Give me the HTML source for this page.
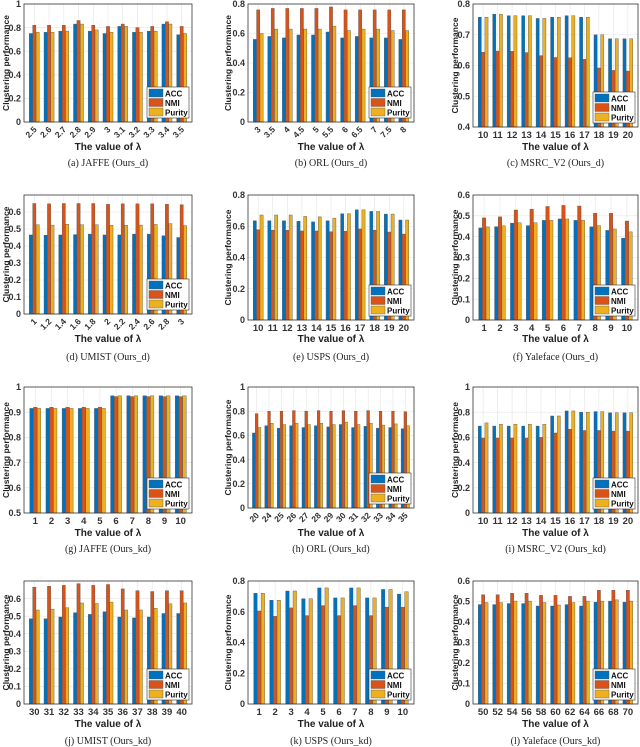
<!DOCTYPE html>
<html><head><meta charset="utf-8"><style>
html,body{margin:0;padding:0;background:#fff;width:640px;height:747px;overflow:hidden}
svg{display:block}
</style></head><body>
<svg id="fig" width="640" height="747" viewBox="0 0 640 747" xmlns="http://www.w3.org/2000/svg"></svg>
<script>
const seriesNames=["ACC","NMI","Purity"];
const colors=["#0072BD","#D95319","#EDB120"];
const catsA=["2.5","2.6","2.7","2.8","2.9","3","3.1","3.2","3.3","3.4","3.5"];
const accA=[0.75,0.76,0.77,0.83,0.77,0.75,0.81,0.76,0.77,0.83,0.74];
const nmiA=[0.82,0.82,0.82,0.86,0.82,0.81,0.83,0.80,0.81,0.85,0.81];
const purA=[0.76,0.76,0.77,0.83,0.78,0.76,0.81,0.76,0.77,0.83,0.75];
const catsB=["3","3.5","4","4.5","5","5.5","6","6.5","7","7.5","8"];
const accB=[0.56,0.58,0.57,0.59,0.59,0.61,0.57,0.58,0.57,0.57,0.56];
const nmiB=[0.76,0.77,0.77,0.77,0.77,0.78,0.76,0.76,0.76,0.76,0.76];
const purB=[0.60,0.63,0.63,0.63,0.63,0.65,0.62,0.63,0.63,0.62,0.62];
const catsC=["10","11","12","13","14","15","16","17","18","19","20"];
const accC=[0.757,0.767,0.762,0.762,0.753,0.757,0.762,0.757,0.70,0.687,0.687];
const nmiC=[0.643,0.647,0.646,0.642,0.632,0.626,0.625,0.62,0.592,0.584,0.582];
const purC=[0.757,0.767,0.762,0.762,0.753,0.757,0.762,0.757,0.70,0.687,0.687];
const catsD=["1","1.2","1.4","1.6","1.8","2","2.2","2.4","2.6","2.8","3"];
const accD=[0.465,0.463,0.465,0.467,0.47,0.465,0.465,0.47,0.47,0.46,0.45];
const nmiD=[0.65,0.648,0.65,0.65,0.65,0.645,0.648,0.648,0.648,0.645,0.643];
const purD=[0.525,0.523,0.528,0.525,0.525,0.522,0.522,0.523,0.527,0.532,0.52];
const catsE=["10","11","12","13","14","15","16","17","18","19","20"];
const accE=[0.635,0.635,0.635,0.632,0.628,0.635,0.68,0.705,0.695,0.678,0.64];
const nmiE=[0.578,0.575,0.575,0.57,0.57,0.565,0.568,0.583,0.575,0.563,0.55];
const purE=[0.672,0.672,0.672,0.663,0.66,0.652,0.68,0.705,0.695,0.678,0.64];
const catsF=["1","2","3","4","5","6","7","8","9","10"];
const accF=[0.442,0.448,0.465,0.453,0.478,0.485,0.478,0.447,0.43,0.393];
const nmiF=[0.49,0.495,0.528,0.532,0.545,0.55,0.547,0.512,0.512,0.475];
const purF=[0.447,0.452,0.467,0.467,0.478,0.485,0.478,0.453,0.437,0.423];
const catsG=["1","2","3","4","5","6","7","8","9","10"];
const accG=[0.915,0.915,0.915,0.915,0.915,0.965,0.965,0.965,0.965,0.965];
const nmiG=[0.92,0.92,0.92,0.92,0.92,0.962,0.962,0.962,0.962,0.962];
const purG=[0.915,0.915,0.915,0.915,0.915,0.965,0.965,0.965,0.965,0.965];
const catsH=["20","24","25","26","27","28","29","30","31","32","33","34","35"];
const accH=[0.62,0.68,0.66,0.68,0.665,0.68,0.67,0.69,0.665,0.675,0.66,0.665,0.655];
const nmiH=[0.78,0.80,0.80,0.805,0.80,0.805,0.80,0.805,0.80,0.805,0.80,0.80,0.795];
const purH=[0.665,0.70,0.69,0.70,0.69,0.70,0.69,0.71,0.69,0.70,0.685,0.695,0.68];
const catsI=["10","11","12","13","14","15","16","17","18","19","20"];
const accI=[0.69,0.69,0.69,0.69,0.69,0.77,0.81,0.80,0.805,0.795,0.795];
const nmiI=[0.595,0.595,0.595,0.595,0.60,0.635,0.665,0.655,0.655,0.65,0.65];
const purI=[0.715,0.705,0.705,0.705,0.705,0.77,0.81,0.80,0.805,0.795,0.795];
const catsJ=["30","31","32","33","34","35","36","37","38","39","40"];
const accJ=[0.485,0.485,0.495,0.52,0.51,0.525,0.495,0.49,0.495,0.515,0.515];
const nmiJ=[0.665,0.67,0.675,0.685,0.675,0.68,0.655,0.645,0.64,0.645,0.645];
const purJ=[0.535,0.54,0.548,0.575,0.572,0.58,0.535,0.535,0.545,0.57,0.575];
const catsK=["1","2","3","4","5","6","7","8","9","10"];
const accK=[0.72,0.675,0.735,0.685,0.755,0.69,0.755,0.69,0.745,0.715];
const nmiK=[0.605,0.57,0.625,0.575,0.64,0.575,0.64,0.575,0.63,0.63];
const purK=[0.72,0.675,0.735,0.685,0.755,0.69,0.755,0.69,0.745,0.73];
const catsL=["50","52","54","56","58","60","62","64","66","68","70"];
const accL=[0.485,0.485,0.49,0.49,0.478,0.478,0.485,0.478,0.497,0.502,0.497];
const nmiL=[0.533,0.533,0.54,0.54,0.53,0.53,0.525,0.525,0.555,0.555,0.555];
const purL=[0.495,0.495,0.502,0.502,0.495,0.483,0.495,0.502,0.502,0.508,0.502];
const ticks1=[0,0.2,0.4,0.6,0.8,1];
const ticks08=[0,0.2,0.4,0.6,0.8];
const ticksC=[0.4,0.5,0.6,0.7,0.8];
const ticks06=[0,0.1,0.2,0.3,0.4,0.5,0.6];
const ticksG=[0.5,0.6,0.7,0.8,0.9,1];

const NS="http://www.w3.org/2000/svg";
const svg=document.getElementById('fig');
function mk(tag,attrs,parent){const e=document.createElementNS(NS,tag);for(const k in attrs)e.setAttribute(k,attrs[k]);(parent||svg).appendChild(e);return e;}
const cols=[{l:24,r:192,yt:9},{l:248,r:414,yt:231},{l:473,r:638,yt:458}];
const rows=[{t:4,cap:166,tit:150},{t:195,cap:360,tit:342},{t:387,cap:552,tit:536},{t:581,cap:744,tit:727}];
const panels=[
 {r:0,c:0,cats:catsA,s:[accA,nmiA,purA],lo:0,hi:1,ticks:ticks1,rot:true,b:122,cap:"(a)  JAFFE (Ours_d)"},
 {r:0,c:1,cats:catsB,s:[accB,nmiB,purB],lo:0,hi:0.8,ticks:ticks08,rot:true,b:122,cap:"(b)  ORL (Ours_d)"},
 {r:0,c:2,cats:catsC,s:[accC,nmiC,purC],lo:0.4,hi:0.8,ticks:ticksC,rot:false,b:127,cap:"(c)  MSRC_V2 (Ours_d)"},
 {r:1,c:0,cats:catsD,s:[accD,nmiD,purD],lo:0,hi:0.7,ticks:ticks06,rot:true,b:314,cap:"(d)  UMIST (Ours_d)"},
 {r:1,c:1,cats:catsE,s:[accE,nmiE,purE],lo:0,hi:0.8,ticks:ticks08,rot:false,b:320,cap:"(e)  USPS (Ours_d)"},
 {r:1,c:2,cats:catsF,s:[accF,nmiF,purF],lo:0,hi:0.6,ticks:ticks06,rot:false,b:320,cap:"(f)  Yaleface (Ours_d)"},
 {r:2,c:0,cats:catsG,s:[accG,nmiG,purG],lo:0.5,hi:1,ticks:ticksG,rot:false,b:513,cap:"(g)  JAFFE (Ours_kd)"},
 {r:2,c:1,cats:catsH,s:[accH,nmiH,purH],lo:0,hi:1,ticks:ticks1,rot:true,b:508,cap:"(h)  ORL (Ours_kd)"},
 {r:2,c:2,cats:catsI,s:[accI,nmiI,purI],lo:0,hi:1,ticks:ticks1,rot:false,b:513,cap:"(i)  MSRC_V2 (Ours_kd)"},
 {r:3,c:0,cats:catsJ,s:[accJ,nmiJ,purJ],lo:0,hi:0.7,ticks:ticks06,rot:false,b:704,cap:"(j)  UMIST (Ours_kd)"},
 {r:3,c:1,cats:catsK,s:[accK,nmiK,purK],lo:0,hi:0.8,ticks:ticks08,rot:false,b:704,cap:"(k)  USPS (Ours_kd)"},
 {r:3,c:2,cats:catsL,s:[accL,nmiL,purL],lo:0,hi:0.6,ticks:ticks06,rot:false,b:704,cap:"(l)  Yaleface (Ours_kd)"}
];
const sans='"Liberation Sans", sans-serif', serif='"Liberation Serif", serif';
panels.forEach((p,pi)=>{
  const C=cols[p.c],R=rows[p.r];
  const L=C.l,Rt=C.r,T=R.t,B=p.b;
  const g=mk('g',{});
  
  
  const n=p.cats.length, step=(Rt-L)/(n+0.4);
  const xc=i=>L+step*(i+0.7);
  const ys=v=>B-(v-p.lo)/(p.hi-p.lo)*(B-T);
  p.ticks.forEach(t=>{const y=ys(t);
    mk('line',{x1:L,x2:Rt,y1:y,y2:y,stroke:'#e4e4e4','stroke-width':0.6},g);
    const tl=mk('text',{x:L-3,y:y+3.2,'text-anchor':'end','font-size':9,'font-weight':'bold','font-family':sans,fill:'#333'},g);tl.textContent=t;
    
    
  });
  p.cats.forEach((c,i)=>{const x=xc(i);
    mk('line',{x1:x,x2:x,y1:T,y2:B,stroke:'#e4e4e4','stroke-width':0.6},g);
    let tl;
    if(p.rot){tl=mk('text',{x:x+3,y:B+8,'text-anchor':'end','font-size':8.5,'font-weight':'bold','font-family':sans,fill:'#333',transform:`rotate(-45 ${x+3} ${B+8})`},g);}
    else{tl=mk('text',{x:x,y:B+11,'text-anchor':'middle','font-size':9.5,'font-weight':'bold','font-family':sans,fill:'#333'},g);}
    tl.textContent=c;
    
    
  });
  const bw=step*0.22;
  p.s.forEach((arr,si)=>{arr.forEach((v,i)=>{
    const x=xc(i)+(si-1)*bw*1.05-bw/2, y=ys(v);
    const r=mk('rect',{x:x,y:y,width:bw,height:B-y,fill:colors[si],stroke:'#555','stroke-width':0.4},g);
    
    
  });});
  mk('rect',{x:L,y:T,width:Rt-L,height:B-T,fill:'none',stroke:'#333','stroke-width':0.8},g);
  const lw=42,lh=31,lx=Rt-lw-3,ly=B-lh-4;
  const lg=mk('g',{},g);
  
  
  mk('rect',{x:lx,y:ly,width:lw,height:lh,fill:'#fff',stroke:'#333','stroke-width':0.6},lg);
  seriesNames.forEach((s,si)=>{
    const yy=ly+2+si*9.5;
    mk('rect',{x:lx+2,y:yy,width:14,height:8,fill:colors[si],stroke:'#555','stroke-width':0.4},lg);
    const t=mk('text',{x:lx+18,y:yy+7.5,'font-size':8,'font-weight':'bold','font-family':sans,fill:'#111'},lg);t.textContent=s;
    
    
  });
  const yt=(T+B)/2;
  const ya=mk('text',{x:C.yt,y:yt,'text-anchor':'middle','font-size':8.5,'font-weight':'bold','font-family':sans,fill:'#222',transform:`rotate(-90 ${C.yt} ${yt})`},g);
  ya.textContent='Clustering performance';
  
  
  const xm=(L+Rt)/2;
  const xa=mk('text',{x:xm,y:R.tit,'text-anchor':'middle','font-size':10,'font-weight':'bold','font-family':sans,fill:'#222'},g);
  xa.textContent='The value of λ';
  
  
  const cp=mk('text',{x:xm,y:R.cap,'text-anchor':'middle','font-size':10,'font-family':serif,fill:'#222'},g);
  cp.textContent=p.cap;
  
  
});
</script>
</body></html>
